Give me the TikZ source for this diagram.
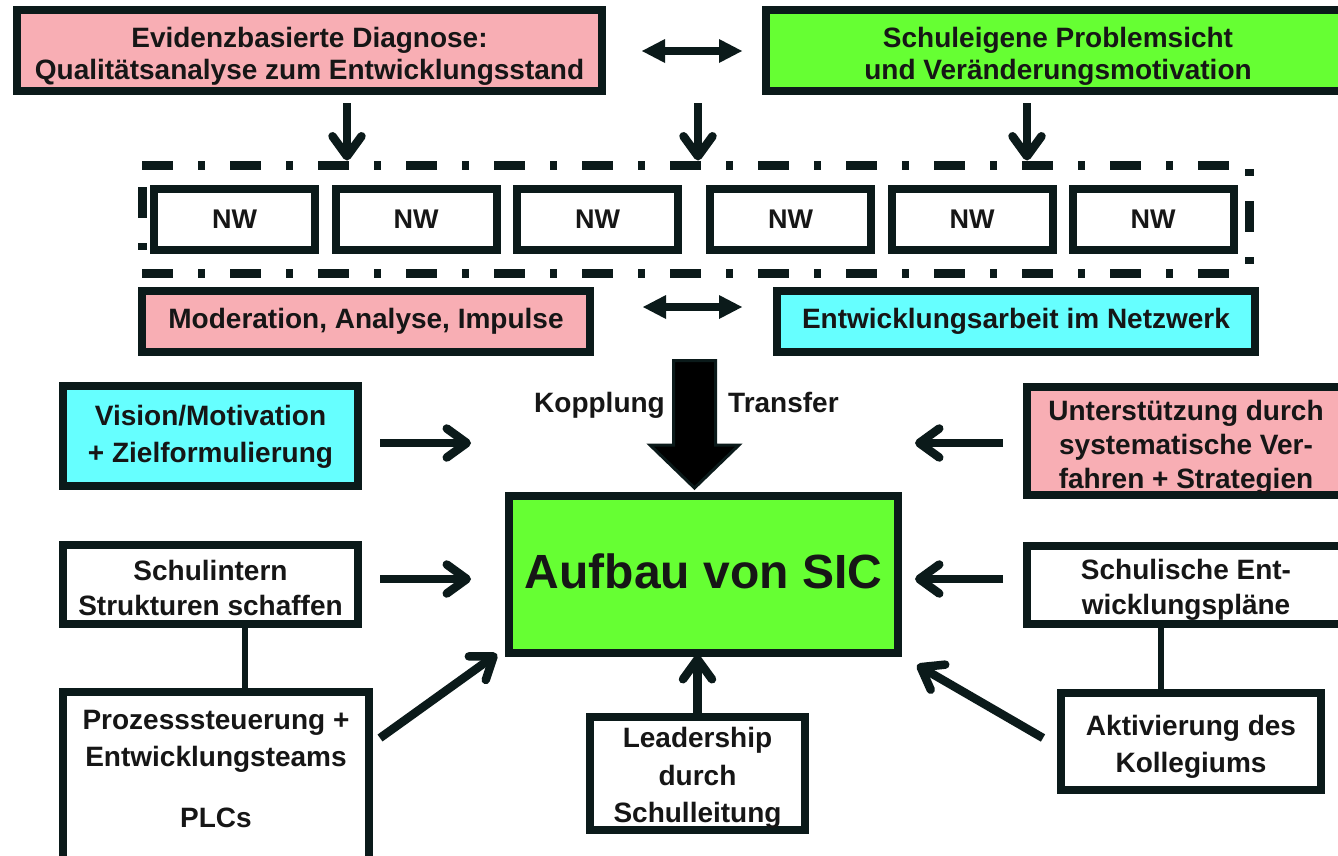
\documentclass[tikz,border=0pt]{standalone}
\usepackage{fontspec}
\setmainfont{Liberation Sans}
\usetikzlibrary{arrows.meta,calc}
\definecolor{edge}{HTML}{0B1A1A}
\definecolor{ink}{HTML}{161616}
\definecolor{pinkf}{HTML}{F8AEB4}
\definecolor{greenf}{HTML}{66FF33}
\definecolor{cyanf}{HTML}{66FFFF}
\begin{document}
\begin{tikzpicture}[x=1pt,y=-1pt,
  box/.style={draw=edge, line width=8pt, inner sep=0pt},
  ld/.style={font=\bfseries\fontsize{28}{#1}\selectfont},
  txt/.style={text=ink, inner sep=0pt, align=center},
  nwbox/.style={box, fill=white, minimum width=161pt, minimum height=61pt, text=ink, font=\bfseries\fontsize{27}{32}\selectfont},
  frameline/.style={draw=edge, line width=9pt, dash pattern=on 31pt off 25pt on 7pt off 25pt},
  barb/.style={draw=edge, line width=8.5pt, -{Straight Barb[length=20pt, width=29pt, round]}},
  dbl/.style={draw=edge, line width=8pt, {Triangle[length=23pt, width=24pt, line width=0pt]}-{Triangle[length=23pt, width=24pt, line width=0pt]}},
  joinline/.style={draw=edge, line width=6pt}
]
\path[use as bounding box] (0,0) rectangle (1338,855);
\clip (0,0) rectangle (1338,855);

% top row
\node[box, fill=pinkf, minimum width=585pt, minimum height=81pt] (evid) at (309.5,50.5) {};
\node[txt, ld=32] (evid-t) at ($(evid.center)+(0,6)$)
  {Evidenzbasierte Diagnose:\\Qualitätsanalyse zum Entwicklungsstand};
\node[box, fill=greenf, minimum width=584pt, minimum height=81pt] (green) at (1058,50.5) {};
\node[txt, ld=32] (green-t) at ($(green.center)+(0,6)$)
  {Schuleigene Problemsicht\\und Veränderungsmotivation};

% network frame
\node[minimum width=1107pt, minimum height=108pt, inner sep=0pt, outer sep=0pt] (frame) at (695.5,219) {};
\draw[frameline] (frame.north west) -- (frame.north east);
\draw[frameline] (frame.south west) -- (frame.south east);
\draw[frameline, dash phase=52pt] (frame.north east) -- (frame.south east);
\draw[frameline, dash phase=66pt] (frame.north west) -- (frame.south west);

\node[nwbox] (nw1) at (234.5,219.5) {NW};
\node[nwbox] (nw2) at (416,219.5) {NW};
\node[nwbox] (nw3) at (597.5,219.5) {NW};
\node[nwbox] (nw4) at (790.5,219.5) {NW};
\node[nwbox] (nw5) at (972,219.5) {NW};
\node[nwbox] (nw6) at (1153,219.5) {NW};

% second row
\node[box, fill=pinkf, minimum width=448pt, minimum height=61pt] (mod) at (366,321.5) {};
\node[txt, ld=32] (mod-t) at (mod.center) {Moderation, Analyse, Impulse};
\node[box, fill=cyanf, minimum width=478pt, minimum height=61pt] (entw) at (1016,321.5) {};
\node[txt, ld=32] (entw-t) at (entw.center) {Entwicklungsarbeit im Netzwerk};

% centre
\node[box, fill=greenf, minimum width=389pt, minimum height=157pt] (sic) at (703.5,574.5) {};
\node[txt, font=\bfseries\fontsize{48}{56}\selectfont] (sic-t) at ($(sic.center)+(0,-3)$) {Aufbau von SIC};

% left column
\node[box, fill=cyanf, minimum width=295pt, minimum height=100pt] (vision) at (210.5,436) {};
\node[txt, ld=37] (vision-t) at ($(vision.center)+(0,0.5)$) {Vision/Motivation\\+ Zielformulierung};
\node[box, fill=white, minimum width=295pt, minimum height=79pt] (schulint) at (210.5,584.5) {};
\node[txt, ld=35] (schulint-t) at ($(schulint.center)+(0,3.5)$) {Schulintern\\Strukturen schaffen};
\node[box, fill=white, minimum width=306pt, minimum height=170pt] (prozess) at (216,777) {};
\node[txt, ld=37] (prozess-t) at ($(prozess.center)+(0,-8)$)
  {Prozesssteuerung +\\Entwicklungsteams\\[24pt]PLCs};

% bottom centre
\node[box, fill=white, minimum width=215pt, minimum height=113pt] (leader) at (697.5,773.5) {};
\node[txt, ld=37.5] (leader-t) at ($(leader.center)+(0,4.5)$) {Leadership\\durch\\Schulleitung};

% right column
\node[box, fill=pinkf, minimum width=318pt, minimum height=108pt] (unter) at (1186,441) {};
\node[txt, ld=34] (unter-t) at ($(unter.center)+(0,6.5)$)
  {Unterstützung durch\\systematische Ver-\\fahren + Strategien};
\node[box, fill=white, minimum width=318pt, minimum height=78pt] (schul) at (1186,585) {};
\node[txt, ld=35] (schul-t) at ($(schul.center)+(0,4.5)$) {Schulische Ent-\\wicklungspläne};
\node[box, fill=white, minimum width=260pt, minimum height=97pt] (akt) at (1191,741.5) {};
\node[txt, ld=37] (akt-t) at ($(akt.center)+(0,5)$) {Aktivierung des\\Kollegiums};

% labels by the block arrow
\node[txt, anchor=base east, ld=32] (kopp) at (665,412) {Kopplung};
\node[txt, anchor=base west, ld=32] (trans) at (728,412) {Transfer};

% block arrow
\draw[edge, fill=black, line width=3pt, line join=miter]
  (673.5,360.5) -- (715.5,360.5) -- (715.5,445) -- (739,445) -- (694.5,488)
  -- (650,445) -- (673.5,445) -- cycle;

% connectors
\coordinate (m2) at (698,103);
\draw[dbl] ($(evid.east)+(36,0.5)$) -- ($(green.west)+(-20,0.5)$);
\draw[dbl] ($(mod.east)+(49,-14.5)$) -- ($(entw.west)+(-31,-14.5)$);

\draw[barb] ($(evid.south)+(37.5,8)$) -- ($(evid.south |- frame.north)+(37.5,-4.5)$);
\draw[barb] (m2) -- ($(m2 |- frame.north)+(0,-4.5)$);
\draw[barb] ($(green.south)+(-31,8)$) -- ($(green.south |- frame.north)+(-31,-4.5)$);

\draw[barb] ($(vision.east)+(18,7)$) -- ($(vision.east -| sic.west)+(-34,7)$);
\draw[barb] ($(schulint.east)+(18,-5.5)$) -- ($(schulint.east -| sic.west)+(-34,-5.5)$);
\draw[barb] ($(prozess.north east)+(7,50)$) -- ($(sic.south west)+(-8,-3)$);
\draw[barb] (leader.north) -- ($(leader.north |- sic.south)+(0,-2)$);
\draw[barb] ($(unter.west)+(-20,2)$) -- ($(unter.west -| sic.east)+(13,2)$);
\draw[barb] ($(schul.west)+(-20,-6)$) -- ($(schul.west -| sic.east)+(13,-6)$);
\draw[barb] ($(akt.north west)+(-14,49)$) -- ($(sic.south east)+(15,8)$);

\draw[joinline] ($(schulint.south)+(34.5,0)$) -- ($(schulint.south |- prozess.north)+(34.5,0)$);
\draw[joinline] ($(schul.south)+(-25,0)$) -- ($(schul.south |- akt.north)+(-25,0)$);
\end{tikzpicture}
\end{document}
